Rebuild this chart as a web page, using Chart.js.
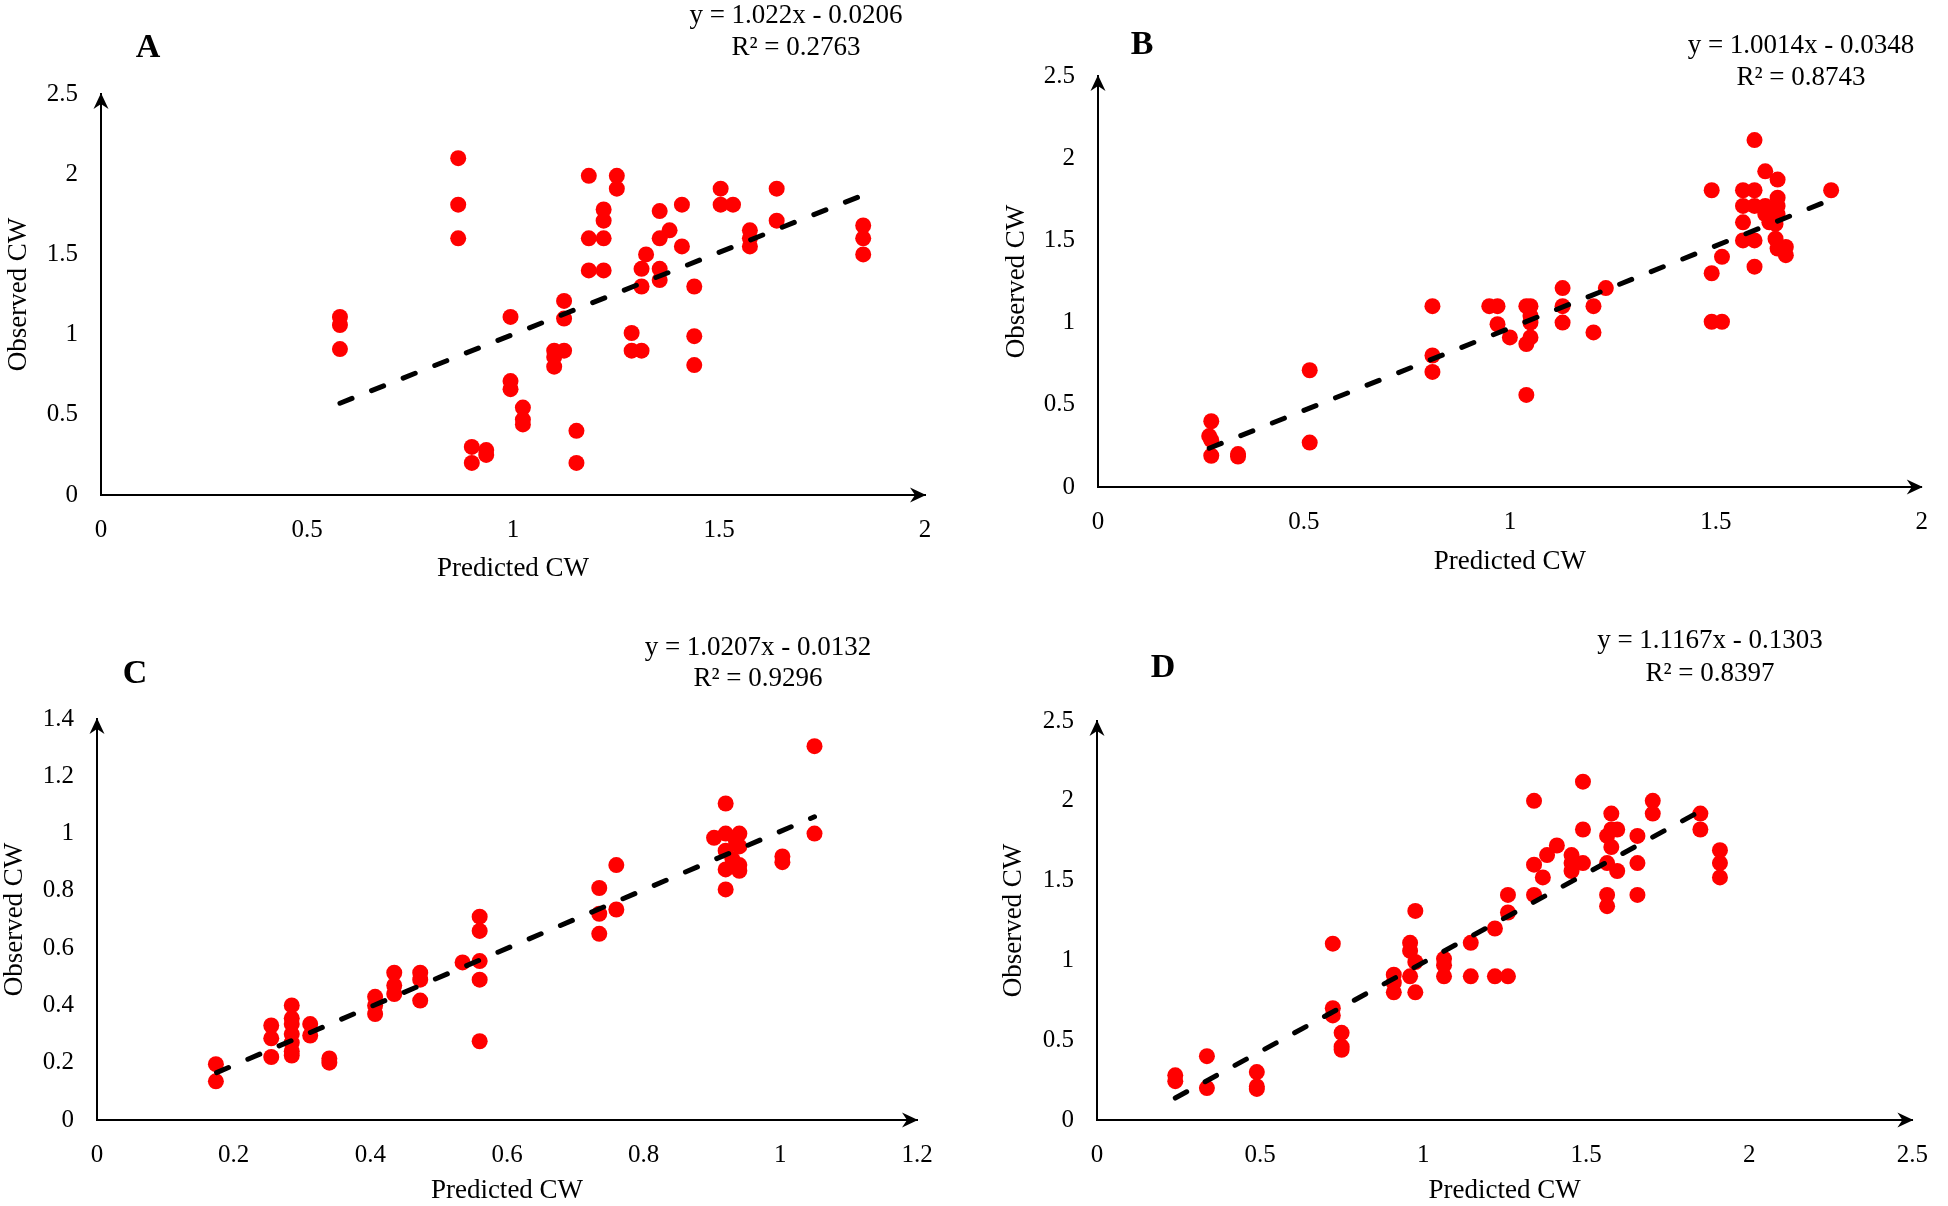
<!DOCTYPE html>
<html><head><meta charset="utf-8">
<script src="https://cdn.jsdelivr.net/npm/chart.js@4.4.1/dist/chart.umd.min.js"></script>
<style>
html,body{margin:0;padding:0;background:#fff;}
#wrap{position:relative;width:1948px;height:1206px;overflow:hidden;background:#fff;}
#wrap canvas{position:absolute;left:0;top:0;}
.lbl{position:absolute;transform:translate(-50%,-50%);font-family:"Liberation Serif","Times New Roman",serif;color:#000;white-space:nowrap;line-height:1;}
.eq{font-size:27px;}
.let{font-size:34px;font-weight:bold;}
</style></head><body>
<div id="wrap">
<canvas id="cA" width="1948" height="1206"></canvas>
<canvas id="cB" width="1948" height="1206"></canvas>
<canvas id="cC" width="1948" height="1206"></canvas>
<canvas id="cD" width="1948" height="1206"></canvas>
<div class="lbl let" style="left:148px;top:46px">A</div>
<div class="lbl let" style="left:1142px;top:43px">B</div>
<div class="lbl let" style="left:135px;top:672px">C</div>
<div class="lbl let" style="left:1163px;top:666px">D</div>
<div class="lbl eq" style="left:796px;top:14px">y = 1.022x - 0.0206</div>
<div class="lbl eq" style="left:796px;top:46px">R² = 0.2763</div>
<div class="lbl eq" style="left:1801px;top:44px">y = 1.0014x - 0.0348</div>
<div class="lbl eq" style="left:1801px;top:76px">R² = 0.8743</div>
<div class="lbl eq" style="left:758px;top:646px">y = 1.0207x - 0.0132</div>
<div class="lbl eq" style="left:758px;top:677px">R² = 0.9296</div>
<div class="lbl eq" style="left:1710px;top:639px">y = 1.1167x - 0.1303</div>
<div class="lbl eq" style="left:1710px;top:672px">R² = 0.8397</div>
</div>
<script>
// ---- Data ----
const aX = [0.58,0.58,0.58,0.867,0.867,0.867,0.90,0.90,0.935,0.935,0.994,0.994,0.994,1.024,1.024,1.024,1.10,1.10,1.10,1.124,1.124,1.124,1.154,1.154,1.184,1.184,1.184,1.22,1.22,1.22,1.22,1.252,1.252,1.288,1.288,1.312,1.312,1.312,1.323,1.356,1.356,1.356,1.356,1.38,1.41,1.41,1.44,1.44,1.44,1.504,1.504,1.534,1.575,1.575,1.575,1.64,1.64,1.85,1.85,1.85];
const aY = [1.11,1.06,0.91,2.10,1.81,1.60,0.30,0.20,0.28,0.25,1.11,0.71,0.66,0.545,0.47,0.44,0.90,0.80,0.86,1.21,1.10,0.90,0.40,0.20,1.99,1.60,1.40,1.78,1.71,1.60,1.40,1.99,1.91,1.01,0.90,1.41,1.30,0.90,1.50,1.77,1.60,1.41,1.34,1.65,1.81,1.55,1.30,0.99,0.81,1.91,1.81,1.81,1.65,1.60,1.55,1.91,1.71,1.68,1.60,1.50];

const bX = [0.275,0.27,0.275,0.275,0.34,0.34,0.514,0.514,0.812,0.812,0.812,0.95,0.97,0.97,1.0,1.04,1.05,1.05,1.05,1.04,1.05,1.04,1.128,1.128,1.128,1.203,1.203,1.233,1.49,1.49,1.49,1.515,1.515,1.566,1.566,1.566,1.566,1.594,1.594,1.594,1.594,1.594,1.62,1.62,1.62,1.63,1.65,1.65,1.65,1.65,1.645,1.645,1.65,1.67,1.67,1.78];
const bY = [0.40,0.31,0.285,0.19,0.20,0.185,0.71,0.27,1.10,0.80,0.70,1.10,1.10,0.99,0.91,1.10,1.10,1.04,1.00,0.87,0.91,0.56,1.21,1.10,1.00,1.10,0.94,1.21,1.805,1.30,1.005,1.005,1.40,1.805,1.71,1.61,1.50,2.11,1.805,1.71,1.50,1.34,1.92,1.71,1.66,1.61,1.87,1.76,1.71,1.66,1.60,1.51,1.45,1.46,1.41,1.805];

const cX = [0.174,0.174,0.255,0.255,0.255,0.285,0.285,0.285,0.285,0.285,0.285,0.285,0.312,0.312,0.34,0.34,0.407,0.407,0.407,0.435,0.435,0.435,0.473,0.473,0.473,0.535,0.56,0.56,0.56,0.56,0.56,0.735,0.735,0.735,0.76,0.76,0.903,0.92,0.92,0.92,0.92,0.92,0.935,0.94,0.94,0.94,0.94,0.93,1.003,1.003,1.05,1.05];
const cY = [0.195,0.135,0.33,0.285,0.22,0.40,0.355,0.335,0.30,0.27,0.24,0.225,0.335,0.295,0.215,0.20,0.43,0.40,0.37,0.514,0.47,0.44,0.514,0.49,0.417,0.55,0.71,0.66,0.555,0.49,0.275,0.81,0.72,0.65,0.89,0.735,0.985,1.105,1.00,0.94,0.875,0.805,0.975,1.00,0.955,0.89,0.87,0.91,0.92,0.90,1.305,1.00];

const dX = [0.24,0.24,0.337,0.337,0.49,0.49,0.49,0.723,0.723,0.723,0.75,0.75,0.75,0.91,0.91,0.91,0.96,0.96,0.96,0.976,0.976,0.976,1.064,1.064,1.064,1.146,1.146,1.22,1.22,1.26,1.26,1.26,1.34,1.34,1.34,1.367,1.38,1.41,1.455,1.455,1.455,1.49,1.49,1.49,1.564,1.564,1.564,1.564,1.577,1.577,1.577,1.595,1.595,1.657,1.657,1.657,1.704,1.704,1.85,1.85,1.91,1.91,1.91];
const dY = [0.28,0.243,0.40,0.20,0.30,0.21,0.195,1.105,0.70,0.655,0.546,0.46,0.44,0.91,0.86,0.80,1.11,1.06,0.90,1.31,0.99,0.80,1.01,0.97,0.90,1.11,0.90,1.20,0.90,1.41,1.30,0.90,2.00,1.60,1.41,1.52,1.66,1.72,1.66,1.61,1.56,2.12,1.82,1.61,1.78,1.61,1.41,1.34,1.92,1.71,1.82,1.82,1.56,1.78,1.61,1.41,2.00,1.92,1.92,1.82,1.69,1.61,1.52];

// Trendlines: [slope, intercept], x-range
const aFit = [1.022, -0.0206],  aFitX = [0.58, 1.85];
const bFit = [1.0014, -0.0348], bFitX = [0.27, 1.78];
const cFit = [1.0207, -0.0132], cFitX = [0.175, 1.05];
const dFit = [1.1167, -0.1303], dFitX = [0.24, 1.87];

// Tick labels
const ticks05x = ['0','0.5','1','1.5','2'];
const ticks05y = ['0','0.5','1','1.5','2','2.5'];
const ticksCx = ['0','0.2','0.4','0.6','0.8','1','1.2'];
const ticksCy = ['0','0.2','0.4','0.6','0.8','1','1.2','1.4'];
const ticksDx = ['0','0.5','1','1.5','2','2.5'];

const xTitle = 'Predicted CW';
const yTitle = 'Observed CW';

// ---- Layout (pixel geometry) ----
const W = 1948, H = 1206;
const FONT = '"Liberation Serif", "Times New Roman", serif';
const tickFont = {family: FONT, size: 25};
const titleFont = {family: FONT, size: 27};
const titleLH = titleFont.size * 1.2;

const arrowPlugin = {
  id: 'arrows',
  afterDraw(chart) {
    const {ctx, chartArea: a} = chart;
    ctx.save();
    ctx.fillStyle = '#000';
    // x arrow (pointing right)
    ctx.beginPath();
    ctx.moveTo(a.right + 1, a.bottom);
    ctx.lineTo(a.right - 15, a.bottom - 7.5);
    ctx.lineTo(a.right - 10, a.bottom);
    ctx.lineTo(a.right - 15, a.bottom + 7.5);
    ctx.closePath();
    ctx.fill();
    // y arrow (pointing up)
    ctx.beginPath();
    ctx.moveTo(a.left, a.top - 1);
    ctx.lineTo(a.left - 7.5, a.top + 15);
    ctx.lineTo(a.left, a.top + 10);
    ctx.lineTo(a.left + 7.5, a.top + 15);
    ctx.closePath();
    ctx.fill();
    ctx.restore();
  }
};

function makePanel(id, xs, ys, fit, fitX, xMax, xStep, xLabels, yMax, yStep, yLabels, geo) {
  const pts = xs.map((x, i) => ({x: x, y: ys[i]}));
  const line = fitX.map(x => ({x: x, y: fit[0] * x + fit[1]}));
  const yScaleLeft = geo.yTitleX - titleLH / 2;
  const yW = geo.X0 - yScaleLeft;
  const xH = geo.xTitleOff + titleLH / 2;
  new Chart(document.getElementById(id), {
    type: 'scatter',
    data: {
      datasets: [
        {type: 'line', data: line, borderColor: '#000', borderWidth: 5, borderDash: [13, 21],
         borderCapStyle: 'round', pointRadius: 0, fill: false, order: 0, clip: false},
        {type: 'scatter', data: pts, backgroundColor: '#ff0000', borderWidth: 0,
         pointRadius: 8, pointHoverRadius: 8, order: 1, clip: false}
      ]
    },
    options: {
      responsive: false, animation: false, events: [],
      devicePixelRatio: 1,
      layout: {padding: {left: yScaleLeft, top: geo.Y1, right: W - geo.X1, bottom: H - geo.Y0 - xH}},
      plugins: {legend: {display: false}, tooltip: {enabled: false}, title: {display: false}},
      scales: {
        x: {
          type: 'linear', position: 'bottom', min: 0, max: xMax,
          afterFit: s => { s.height = xH; },
          grid: {display: false, drawTicks: false},
          border: {display: true, color: '#000', width: 2},
          ticks: {stepSize: xStep, color: '#000', font: tickFont, padding: 20, maxRotation: 0, autoSkip: false,
                  callback: (v, i) => xLabels[i]},
          title: {display: true, text: xTitle, color: '#000', font: titleFont, padding: 0}
        },
        y: {
          type: 'linear', position: 'left', min: 0, max: yMax,
          afterFit: s => { s.width = yW; },
          grid: {display: false, drawTicks: false},
          border: {display: true, color: '#000', width: 2},
          ticks: {stepSize: yStep, color: '#000', font: tickFont, padding: 23, autoSkip: false,
                  callback: (v, i) => yLabels[i]},
          title: {display: true, text: yTitle, color: '#000', font: titleFont, padding: 0}
        }
      }
    },
    plugins: [arrowPlugin]
  });
}

makePanel('cA', aX, aY, aFit, aFitX, 2, 0.5, ticks05x, 2.5, 0.5, ticks05y,
  {X0: 101, X1: 925, Y0: 495, Y1: 94, yTitleX: 19, xTitleOff: 74});
makePanel('cB', bX, bY, bFit, bFitX, 2, 0.5, ticks05x, 2.5, 0.5, ticks05y,
  {X0: 1098, X1: 1924, Y0: 487, Y1: 76, yTitleX: 1017, xTitleOff: 75});
makePanel('cC', cX, cY, cFit, cFitX, 1.2, 0.2, ticksCx, 1.4, 0.2, ticksCy,
  {X0: 97, X1: 917, Y0: 1120, Y1: 719, yTitleX: 15, xTitleOff: 71});
makePanel('cD', dX, dY, dFit, dFitX, 2.5, 0.5, ticksDx, 2.5, 0.5, ticks05y,
  {X0: 1097, X1: 1927, Y0: 1120, Y1: 721, yTitleX: 1014, xTitleOff: 71});
</script>
</body></html>
